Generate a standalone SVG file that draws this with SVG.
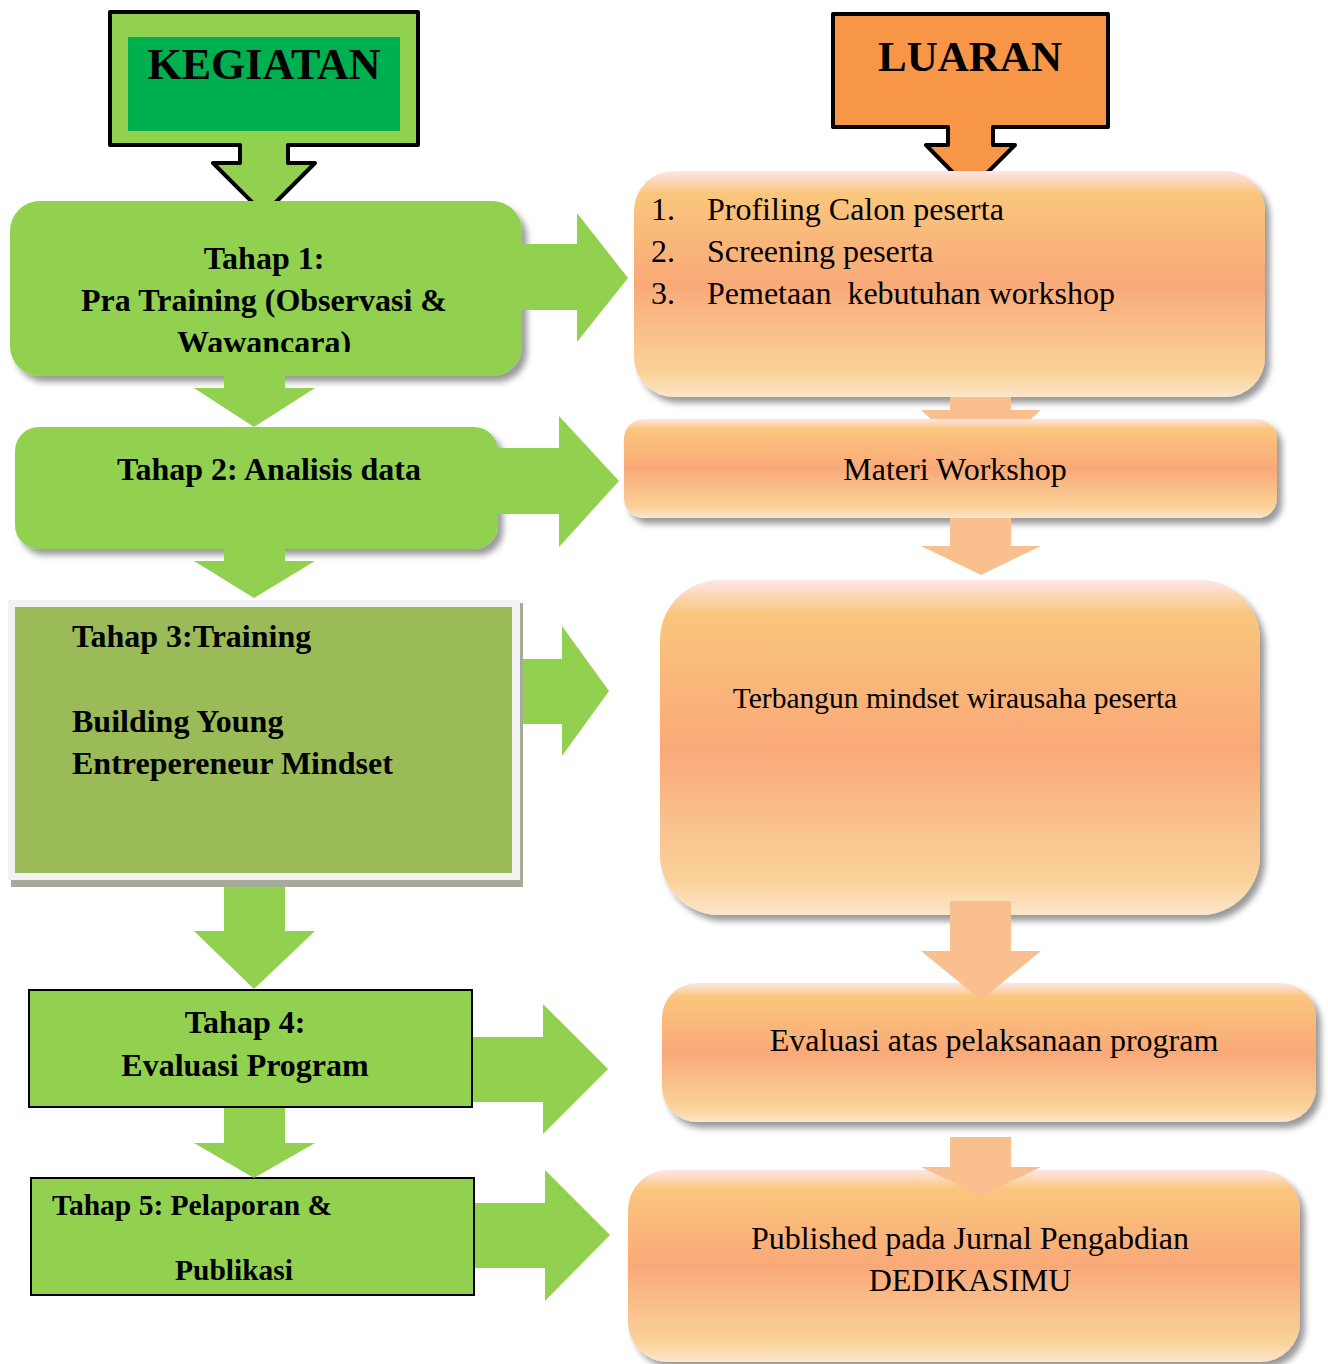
<svg xmlns="http://www.w3.org/2000/svg" width="1328" height="1364" viewBox="0 0 1328 1364">
<style>
.b{font-family:"Liberation Serif","Times New Roman",serif;font-weight:bold;fill:#000}
.r{font-family:"Liberation Serif","Times New Roman",serif;fill:#000}
.g{fill:#92d050}
.o{fill:#f9bf8f}
.ob{fill:url(#og)}
</style>
<defs>
<linearGradient id="og" x1="0" y1="0" x2="0" y2="1">
<stop offset="0" stop-color="#fde6e8"/>
<stop offset="0.1" stop-color="#fac67c"/>
<stop offset="0.5" stop-color="#f9a978"/>
<stop offset="0.9" stop-color="#fad39a"/>
<stop offset="1" stop-color="#fce6cc"/>
</linearGradient>
<filter id="sh" x="-5%" y="-5%" width="115%" height="120%">
<feDropShadow dx="5" dy="6" stdDeviation="3" flood-color="#000" flood-opacity="0.4"/>
</filter>
<clipPath id="c1"><rect x="10" y="201" width="512" height="151"/></clipPath>
</defs>
<rect width="1328" height="1364" fill="#fff"/>
<g id="nodes">
<g id="kegiatan">
<path d="M110,12 H418 V145 H288 V163 H315 L264,214 L213,163 H240 V145 H110 Z" fill="#92d050" stroke="#000" stroke-width="4" stroke-linejoin="round"/>
<rect x="128" y="37" width="272" height="94" fill="#00b050"/>
<text x="264" y="79" class="b" font-size="44" text-anchor="middle">KEGIATAN</text>
</g>
<g id="luaran">
<path d="M833,14 H1108 V127 H993 V145 H1015 L970,190 L926,145 H948 V127 H833 Z" fill="#f79646" stroke="#000" stroke-width="4" stroke-linejoin="round"/>
<text x="970" y="71" class="b" font-size="43" text-anchor="middle">LUARAN</text>
</g>
<g id="tahap1">
<rect x="10" y="201" width="512" height="175" rx="30" class="g" filter="url(#sh)"/>
<g clip-path="url(#c1)" class="b" font-size="32" text-anchor="middle">
<text x="264" y="269">Tahap 1:</text>
<text x="264" y="311">Pra Training (Observasi &amp;</text>
<text x="264" y="353">Wawancara)</text>
</g>
</g>
<g id="tahap2">
<rect x="15" y="427" width="483" height="122" rx="24" class="g" filter="url(#sh)"/>
<text x="269" y="480" class="b" font-size="32" text-anchor="middle">Tahap 2: Analisis data</text>
</g>
<g id="tahap3">
<rect x="11" y="603" width="512" height="284" fill="#a6ab98"/>
<rect x="8" y="600" width="512" height="280" fill="#f2f2f2"/>
<rect x="15" y="607" width="497" height="266" fill="#9bbb59"/>
<text x="72" y="647" class="b" font-size="32">Tahap 3:Training</text>
<text x="72" y="732" class="b" font-size="32">Building Young</text>
<text x="72" y="774" class="b" font-size="32">Entrepereneur Mindset</text>
</g>
<g id="tahap4">
<rect x="29" y="990" width="443" height="117" class="g" stroke="#000" stroke-width="2"/>
<text x="245" y="1033" class="b" font-size="32" text-anchor="middle">Tahap 4:</text>
<text x="245" y="1076" class="b" font-size="32" text-anchor="middle">Evaluasi Program</text>
</g>
<g id="tahap5">
<rect x="31" y="1178" width="443" height="117" class="g" stroke="#000" stroke-width="2"/>
<text x="52" y="1215" class="b" font-size="29.5">Tahap 5: Pelaporan &amp;</text>
<text x="234" y="1280" class="b" font-size="29.5" text-anchor="middle">Publikasi</text>
</g>
<g id="luaran1">
<rect x="634" y="171" width="631" height="226" rx="40" class="ob" filter="url(#sh)"/>
<g class="r" font-size="32">
<text x="651" y="220">1.</text><text x="707" y="220">Profiling Calon peserta</text>
<text x="651" y="262">2.</text><text x="707" y="262">Screening peserta</text>
<text x="651" y="304">3.</text><text x="707" y="304" xml:space="preserve">Pemetaan  kebutuhan workshop</text>
</g>
</g>
<g id="luaran2">
<rect x="624" y="419" width="653" height="99" rx="20" class="ob" filter="url(#sh)"/>
<text x="955" y="480" class="r" font-size="32" text-anchor="middle">Materi Workshop</text>
</g>
<g id="luaran3">
<rect x="660" y="580" width="600" height="335" rx="60" class="ob" filter="url(#sh)"/>
<text x="955" y="708" class="r" font-size="29.5" text-anchor="middle">Terbangun mindset wirausaha peserta</text>
</g>
<g id="luaran4">
<rect x="662" y="983" width="654" height="139" rx="35" class="ob" filter="url(#sh)"/>
<text x="994" y="1051" class="r" font-size="32" text-anchor="middle">Evaluasi atas pelaksanaan program</text>
</g>
<g id="luaran5">
<rect x="628" y="1170" width="672" height="192" rx="40" class="ob" filter="url(#sh)"/>
<text x="970" y="1249" class="r" font-size="32" text-anchor="middle">Published pada Jurnal Pengabdian</text>
<text x="970" y="1291" class="r" font-size="32" text-anchor="middle">DEDIKASIMU</text>
</g>
</g>
<g id="connectors">
<path class="g" d="M224,376 H285 V388 H315 L254,427 L194,388 H224 Z"/>
<path class="g" d="M224,549 H285 V561 H315 L254,598 L194,561 H224 Z"/>
<path class="g" d="M224,887 H285 V931 H315 L254,989 L194,931 H224 Z"/>
<path class="g" d="M224,1108 H285 V1143 H315 L254,1178 L194,1143 H224 Z"/>
<path class="g" d="M522,244 H577 V213 L628,278 L577,342 V310 H522 Z"/>
<path class="g" d="M498,448 H559 V416 L619,481 L559,547 V514 H498 Z"/>
<path class="g" d="M523,659 H562 V626 L609,691 L562,756 V724 H523 Z"/>
<path class="g" d="M473,1037 H543 V1004 L608,1069 L543,1134 V1102 H473 Z"/>
<path class="g" d="M475,1203 H545 V1170 L610,1235 L545,1301 V1268 H475 Z"/>
<path class="o" d="M950,397 H1011 V410 H1041 L1031,419 H931 L921,410 H950 Z"/>
<path class="o" d="M950,518 H1011 V546 H1041 L981,575 L921,546 H950 Z"/>
<path class="o" d="M950,901 H1011 V951 H1041 L981,1000 L921,951 H950 Z"/>
<path class="o" d="M950,1137 H1011 V1167 H1041 L981,1196 L921,1167 H950 Z"/>
</g>
</svg>
